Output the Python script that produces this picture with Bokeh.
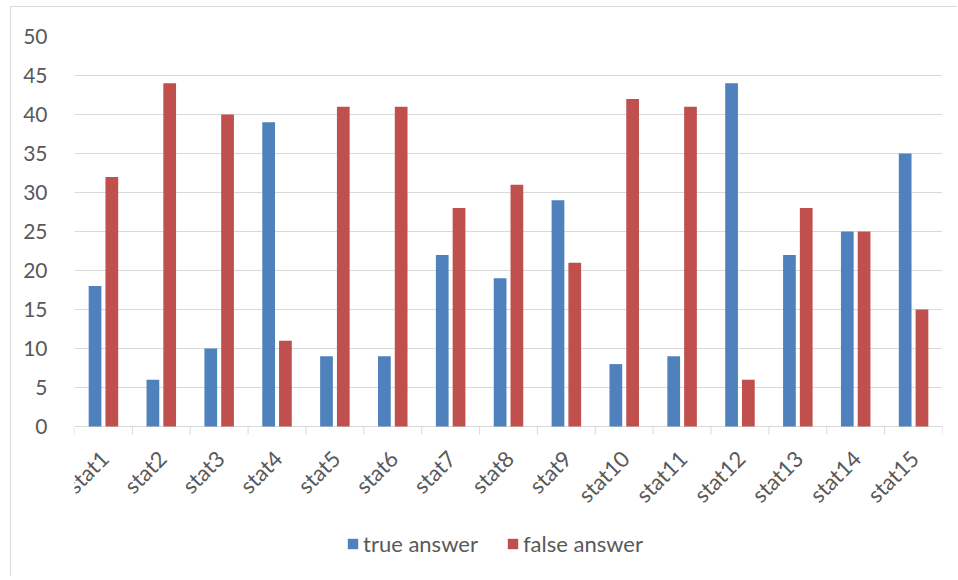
import math
from bokeh.plotting import figure
from bokeh.models import ColumnDataSource, FixedTicker, Legend, LegendItem, Range1d
from bokeh.core.properties import value
from bokeh.embed import file_html
from bokeh.resources import INLINE

categories = ["stat1", "stat2", "stat3", "stat4", "stat5", "stat6", "stat7", "stat8",
              "stat9", "stat10", "stat11", "stat12", "stat13", "stat14", "stat15"]
true_answer = [18, 6, 10, 39, 9, 9, 22, 19, 29, 8, 9, 44, 22, 25, 35]
false_answer = [32, 44, 40, 11, 41, 41, 28, 31, 21, 42, 41, 6, 28, 25, 15]
y_ticks = [0, 5, 10, 15, 20, 25, 30, 35, 40, 45, 50]

n = len(categories)
centers = [i + 0.5 for i in range(n)]
bounds = [float(i) for i in range(n + 1)]

# layout constants (pixels)
FRAME_W, FRAME_H = 868, 390 + 150
PLOT_H = 390
Y_MAX = 50
PX_PER_UNIT = PLOT_H / Y_MAX
PX_PER_CAT = FRAME_W / n
Y_MIN = -(FRAME_H - PLOT_H) / PX_PER_UNIT

src = ColumnDataSource(dict(
    cat=categories,
    xt=[c - 0.145 for c in centers],
    xf=[c + 0.145 for c in centers],
    t=true_answer,
    f=false_answer,
))

FONT = "Lato"
TXT = "#595959"
GRID = "#d9d9d9"

p = figure(frame_width=FRAME_W, frame_height=FRAME_H, output_backend="svg", toolbar_location=None,
           x_axis_type=None, x_range=Range1d(0, n), y_range=Range1d(Y_MIN, Y_MAX),
           min_border_left=63, min_border_top=29, min_border_right=15, min_border_bottom=0)
p.styles = {"border-left": "1px solid #d9d9d9", "border-top": "1px solid #d9d9d9",
            "margin-left": "10px", "margin-top": "6px"}
p.outline_line_color = None
p.background_fill_color = "white"
p.border_fill_color = "white"

rt = p.vbar(x="xt", top="t", width=0.22, bottom=0, source=src, fill_color="#4F81BD", line_color=None)
rf = p.vbar(x="xf", top="f", width=0.22, bottom=0, source=src, fill_color="#C0504D", line_color=None)

# y axis
yax = p.yaxis[0]
yax.ticker = FixedTicker(ticks=y_ticks)
yax.axis_line_color = None
yax.major_tick_line_color = None
yax.minor_tick_line_color = None
yax.major_label_text_font = FONT
yax.major_label_text_font_size = "21px"
yax.major_label_text_color = TXT
yax.major_label_standoff = 21

p.ygrid.ticker = FixedTicker(ticks=y_ticks)
p.ygrid.grid_line_color = GRID
p.ygrid.grid_line_width = 1
p.xgrid.visible = False

# category boundary tick marks below the baseline
tick_len = 8 / PX_PER_UNIT
p.segment(x0=bounds, y0=[0] * len(bounds), x1=bounds, y1=[-tick_len] * len(bounds),
          line_color=GRID, line_width=1)

# rotated category labels
lab_dx = 1 / PX_PER_CAT
lab_dy = 28 / PX_PER_UNIT
p.text(x=[c + lab_dx for c in centers], y=[-lab_dy] * n, text=categories,
       angle=math.pi / 4, text_align="right", text_baseline="middle",
       text_font=value(FONT), text_font_size="22px", text_color=TXT)

legend = Legend(items=[LegendItem(label="true answer", renderers=[rt]),
                       LegendItem(label="false answer", renderers=[rf])],
                orientation="horizontal", location=(272, 19))
legend.border_line_color = None
legend.background_fill_alpha = 0
legend.label_text_font = FONT
legend.label_text_font_size = "22px"
legend.label_text_color = TXT
legend.glyph_width = 13
legend.glyph_height = 13
legend.label_standoff = 4
legend.spacing = 28
legend.padding = 0
legend.margin = 0
p.add_layout(legend, "center")

open("out.html", "w").write(file_html(p, INLINE))
